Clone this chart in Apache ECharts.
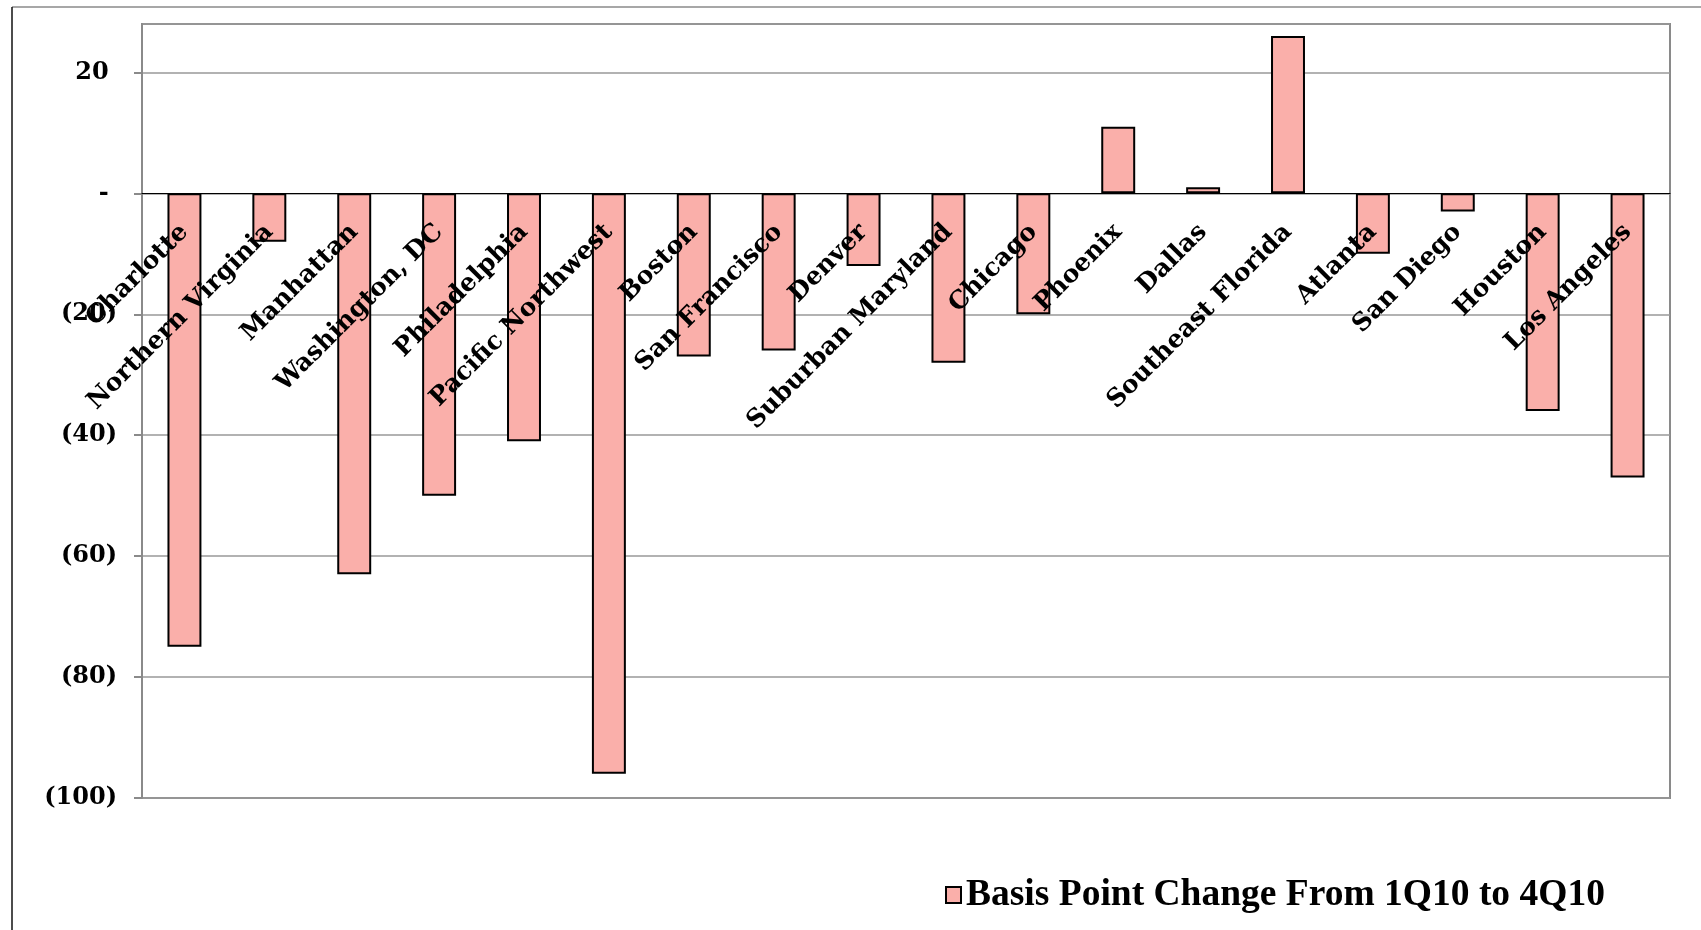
<!DOCTYPE html>
<html>
<head>
<meta charset="utf-8">
<script src="https://cdn.jsdelivr.net/npm/echarts@6/dist/echarts.min.js"></script>
<style>
  html, body { margin: 0; padding: 0; background: #fff; }
  #chart { width: 1701px; height: 930px; }
</style>
</head>
<body>
<div id="chart"></div>
<script>
const markets = ['Charlotte', 'Northern Virginia', 'Manhattan', 'Washington, DC', 'Philadelphia', 'Pacific Northwest',
  'Boston', 'San Francisco', 'Denver', 'Suburban Maryland', 'Chicago', 'Phoenix', 'Dallas', 'Southeast Florida',
  'Atlanta', 'San Diego', 'Houston', 'Los Angeles'];
const bpsChange = [-75, -8, -63, -50, -41, -96, -27, -26, -12, -28, -20, 11, 1, 26, -10, -3, -36, -47];
const seriesName = 'Basis Point Change From 1Q10 to 4Q10';

const serif = '"DejaVu Serif", serif';
const gray = '#8a8a8a';
const yMin = -100;
const yMax = 28;

// Excel style #,##0_);(#,##0);- : positives and zero keep room for the ")"
const formatTick = (v) => {
  if (v === 0) return '- ';
  if (v % 20 !== 0) return '';
  return v < 0 ? `(${-v})` : `${v} `;
};

const H = 930;
const gridBox = { left: 142, right: 31, top: 24, bottom: 132, outerBoundsMode: 'none' };
// the category axis sits at value 0, as Excel draws it: shift it up from the plot bottom
const plotH = H - gridBox.top - gridBox.bottom;
const zeroOffset = -plotH * (0 - yMin) / (yMax - yMin);

const chart = echarts.init(document.getElementById('chart'));
chart.setOption({
  animation: false,
  backgroundColor: '#fff',
  graphic: [
    { type: 'line', shape: { x1: 12, y1: 7, x2: 1701, y2: 7 }, style: { stroke: gray, lineWidth: 1.5 } },
    { type: 'line', shape: { x1: 12, y1: 7, x2: 12, y2: 930 }, style: { stroke: '#111', lineWidth: 1.5 } }
  ],
  grid: [
    { ...gridBox, show: true, borderColor: gray, borderWidth: 2, backgroundColor: 'transparent' },
    { ...gridBox, show: false }
  ],
  legend: {
    left: 940, top: 871,
    icon: 'rect', itemWidth: 15, itemHeight: 16, itemGap: 6,
    textStyle: { fontFamily: '"Liberation Serif", serif', fontWeight: 'bold', fontSize: 37.5, color: '#000' },
    data: [seriesName]
  },
  xAxis: [
    {
      type: 'category',
      gridIndex: 0,
      data: markets,
      position: 'bottom',
      offset: zeroOffset,
      axisLine: { onZero: false, lineStyle: { color: '#000', width: 1.2 } },
      axisTick: { interval: 1, length: 7, lineStyle: { color: gray, width: 1.2 } },
      axisLabel: {
        interval: 0, rotate: 45, margin: 35,
        fontFamily: serif, fontWeight: 'bold', fontSize: 25, color: '#000'
      },
      z: 5
    },
    {
      // upward half of the crossing tick marks
      type: 'category',
      gridIndex: 1,
      data: markets,
      position: 'bottom',
      offset: zeroOffset,
      axisLine: { show: false, onZero: false },
      axisTick: { inside: true, interval: 1, length: 7, lineStyle: { color: gray, width: 1.2 } },
      axisLabel: { show: false },
      splitLine: { show: false }
    }
  ],
  yAxis: [
    {
      type: 'value',
      gridIndex: 0,
      min: yMin, max: yMax, interval: 20,
      axisLine: { show: true, lineStyle: { color: gray, width: 2 } },
      axisTick: { show: true, length: 8, lineStyle: { color: gray, width: 2 } },
      axisLabel: {
        margin: 25, formatter: formatTick, showMaxLabel: false,
        fontFamily: serif, fontWeight: 'bold', fontSize: 24, color: '#000'
      },
      splitLine: { lineStyle: { color: '#999', width: 1.5 } }
    },
    {
      type: 'value',
      gridIndex: 1,
      min: yMin, max: yMax, interval: 20,
      axisLine: { show: false },
      axisTick: { show: false },
      axisLabel: { show: false },
      splitLine: { show: false }
    }
  ],
  series: [{
    name: seriesName,
    type: 'bar',
    xAxisIndex: 0,
    yAxisIndex: 0,
    barWidth: '40%',
    data: bpsChange,
    itemStyle: { color: '#FAAFAA', borderColor: '#000', borderWidth: 2 }
  }]
});
</script>
</body>
</html>
